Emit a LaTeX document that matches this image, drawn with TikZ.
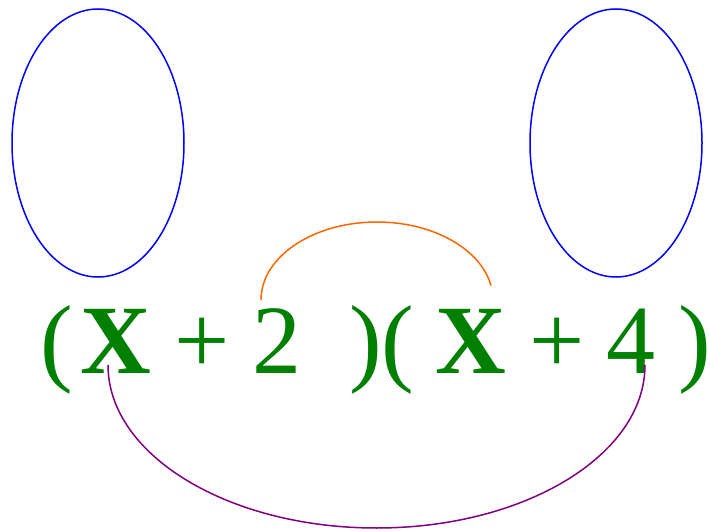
\documentclass[tikz,border=0pt]{standalone}
\usepackage{fontspec}
\setmainfont{Liberation Serif}
\usetikzlibrary{positioning,shapes.geometric}
\definecolor{termgreen}{RGB}{0,128,0}
\definecolor{earblue}{RGB}{0,0,255}
\definecolor{arcorange}{RGB}{255,102,0}
\definecolor{arcpurple}{RGB}{128,0,128}

\begin{document}
\begin{tikzpicture}[x=1pt, y=1pt,
  tok/.style={anchor=base, inner sep=0pt, text=termgreen, font=\fontsize{98}{98}\selectfont},
  ear/.style={draw=earblue, line width=1.5pt},
  arc/.style={line width=1.5pt}
]
\useasboundingbox (0,0) rectangle (710,531);

% ears
\node[ear, ellipse, minimum width=172pt, minimum height=268pt, inner sep=0pt] (earL) at (98,388) {};
\node[ear, ellipse, minimum width=172pt, minimum height=268pt, inner sep=0pt] (earR) at (616,388) {};

% (X + 2)(X + 4)
\node[tok] (lp1) at (57,158) {(};
\node[tok] (x1) at (116,158) {\textbf{X}};
\node[tok] (plus1) at (202,158) {+};
\node[tok] (two) at (277,158) {2};
\node[tok] (rp1) at (366,158) {)};
\node[tok] (lp2) at (398,158) {(};
\node[tok] (x2) at (471,158) {\textbf{X}};
\node[tok] (plus2) at (557,158) {+};
\node[tok] (four) at (631,158) {4};
\node[tok] (rp2) at (695,158) {)};

% arcs
\coordinate (innerA) at (261,231);
\coordinate (outerA) at (108,166);
\draw[arc, arcorange] (innerA) arc[start angle=180, end angle=10.6, x radius=116, y radius=78];
\draw[arc, arcpurple] (outerA) arc[start angle=180, end angle=360, x radius=268.5, y radius=163];
\end{tikzpicture}
\end{document}
